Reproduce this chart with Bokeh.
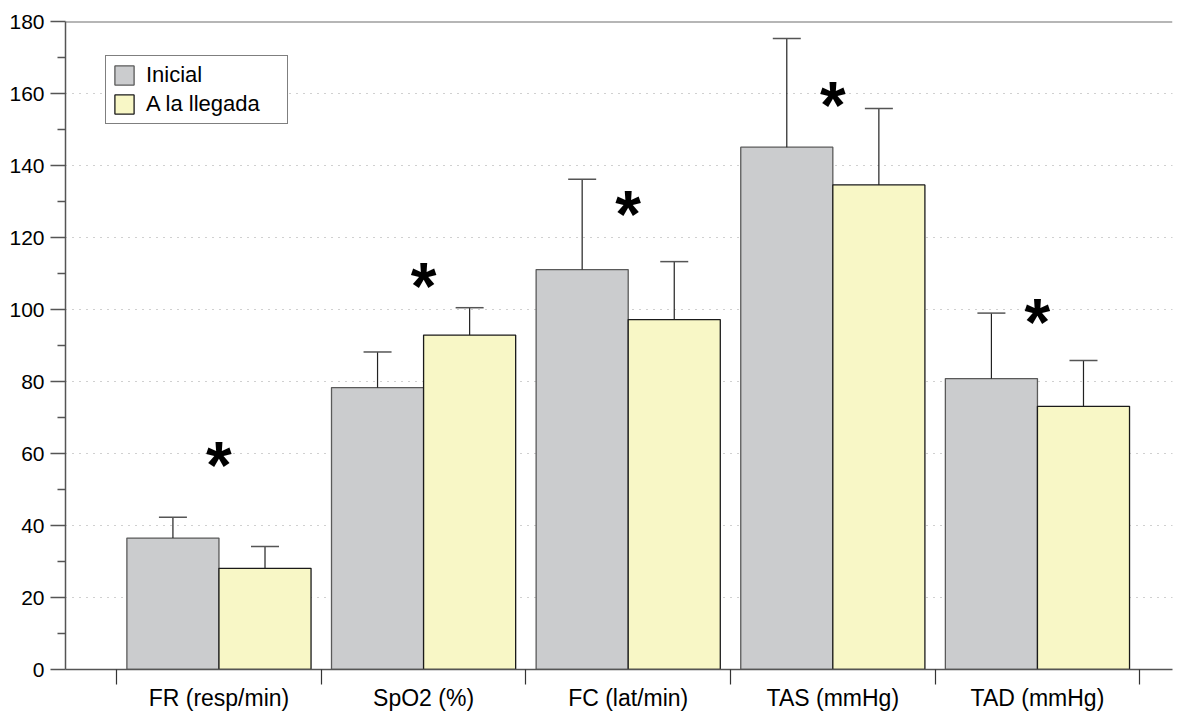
from bokeh.plotting import figure
from bokeh.models import (ColumnDataSource, Range1d, FixedTicker, Span, Whisker,
                          TeeHead, Legend, LegendItem)
from bokeh.core.properties import value
from bokeh.embed import file_html
from bokeh.resources import INLINE

categories = ["FR (resp/min)", "SpO2 (%)", "FC (lat/min)", "TAS (mmHg)", "TAD (mmHg)"]
inicial = [36.5, 78.3, 111.1, 145.1, 80.8]
inicial_err_top = [42.3, 88.2, 136.2, 175.3, 99.0]
llegada = [28.1, 92.9, 97.2, 134.6, 73.1]
llegada_err_top = [34.2, 100.5, 113.3, 155.8, 85.8]
asterisk_y = [60.0, 109.5, 129.5, 160.0, 99.7]
y_ticks = [0, 20, 40, 60, 80, 100, 120, 140, 160, 180]
y_minor = [10, 30, 50, 70, 90, 110, 130, 150, 170]

FONT = "Liberation Sans"
BW = 0.45
centers = [i + 1 for i in range(len(categories))]
bounds = [i + 0.5 for i in range(len(categories) + 1)]

src_a = ColumnDataSource(dict(x=[c - BW / 2 for c in centers], top=inicial,
                              up=inicial_err_top))
src_b = ColumnDataSource(dict(x=[c + BW / 2 for c in centers], top=llegada,
                              up=llegada_err_top))
src_s = ColumnDataSource(dict(x=centers, y=asterisk_y, t=["*"] * len(centers)))

p = figure(width=1180, height=713, output_backend="svg", toolbar_location=None,
           x_range=Range1d(0.25, 5.66), y_range=Range1d(0, 180),
           min_border_left=65, min_border_right=8, min_border_top=21,
           min_border_bottom=43)
p.outline_line_color = None
p.background_fill_color = "white"

p.xgrid.visible = False
p.ygrid.ticker = FixedTicker(ticks=y_ticks[1:-1])
p.ygrid.grid_line_color = "#a0a0a0"
p.ygrid.grid_line_dash = "1 6"
p.ygrid.grid_line_width = 1

r_a = p.vbar(x="x", top="top", width=BW, bottom=0, source=src_a,
             fill_color="#CBCCCE", line_color="#5a5a5a", line_width=1.3)
r_b = p.vbar(x="x", top="top", width=BW, bottom=0, source=src_b,
             fill_color="#F8F7C6", line_color="#1a1a1a", line_width=1.3)

for s in (src_a, src_b):
    w = Whisker(base="x", lower="top", upper="up", source=s,
                line_color="#222222", line_width=1.2,
                upper_head=TeeHead(size=28, line_color="#555555", line_width=1.5),
                lower_head=None, level="glyph")
    p.add_layout(w)

p.text(x="x", y="y", text="t", source=src_s, text_font=value(FONT),
       text_font_style="bold", text_font_size="66px", text_align="center",
       text_baseline="alphabetic", y_offset=11, text_color="black")

p.add_layout(Span(location=180, dimension="width", line_color="#6e6e6e",
                  line_width=2))

# y axis
ya = p.yaxis[0]
ya.ticker = FixedTicker(ticks=y_ticks, minor_ticks=y_minor)
ya.axis_line_color = "#555555"
ya.axis_line_width = 1.5
ya.major_tick_line_color = "#555555"
ya.minor_tick_line_color = "#555555"
ya.major_tick_line_width = 1.5
ya.minor_tick_line_width = 1.5
ya.major_tick_in = 0
ya.major_tick_out = 15
ya.minor_tick_in = 0
ya.minor_tick_out = 8
ya.major_label_standoff = 6
ya.major_label_text_font = FONT
ya.major_label_text_font_size = "21px"
ya.major_label_text_color = "black"

# x axis
xa = p.xaxis[0]
xa.ticker = FixedTicker(ticks=centers, minor_ticks=bounds)
xa.major_label_overrides = {c: lab for c, lab in zip(centers, categories)}
xa.axis_line_color = "#555555"
xa.axis_line_width = 1.5
xa.major_tick_line_color = None
xa.major_tick_in = 0
xa.major_tick_out = 0
xa.minor_tick_line_color = "#333333"
xa.minor_tick_line_width = 1.2
xa.minor_tick_in = 0
xa.minor_tick_out = 15
xa.major_label_standoff = 0
xa.major_label_text_font = FONT
xa.major_label_text_font_size = "23px"
xa.major_label_text_color = "black"

legend = Legend(items=[LegendItem(label="Inicial", renderers=[r_a]),
                       LegendItem(label="A la llegada", renderers=[r_b])],
                location=(40, 545), padding=6, margin=0, spacing=3,
                glyph_width=24, glyph_height=24, label_standoff=10,
                label_width=135, label_text_font=FONT,
                label_text_font_size="22px", label_text_color="black",
                border_line_color="black", border_line_width=1,
                background_fill_color="white", background_fill_alpha=1)
p.add_layout(legend)

open("out.html", "w").write(file_html(p, INLINE))
